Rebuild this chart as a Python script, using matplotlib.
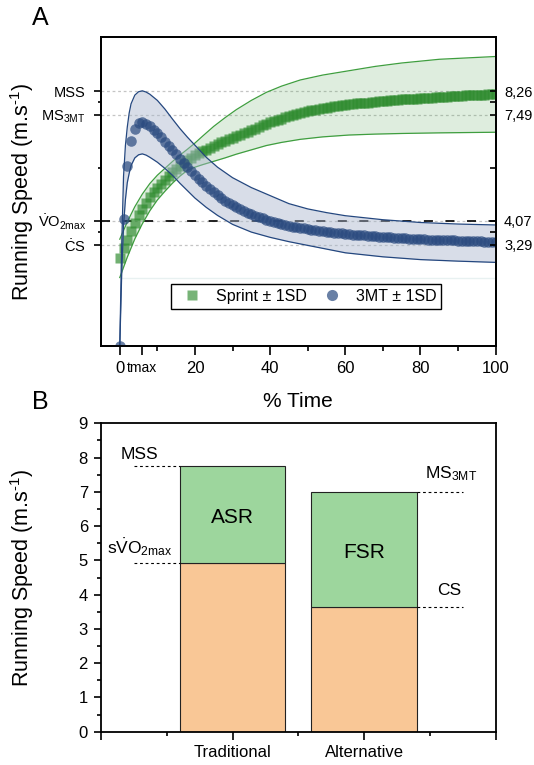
import matplotlib
matplotlib.use('Agg')
import matplotlib.pyplot as plt
from matplotlib.lines import Line2D
import numpy as np

plt.rcParams['font.family'] = ['Liberation Sans', 'DejaVu Sans']
plt.rcParams['mathtext.fontset'] = 'custom'
plt.rcParams['mathtext.rm'] = 'Liberation Sans'
plt.rcParams['mathtext.it'] = 'Liberation Sans:italic'
plt.rcParams['mathtext.bf'] = 'Liberation Sans:bold'
plt.rcParams['lines.scale_dashes'] = False

# ---------------- Panel A data ----------------
time_pct = list(range(101))
sprint_mean = [2.85, 3.17, 3.46, 3.73, 4.00, 4.24, 4.45, 4.65, 4.83, 4.99,
               5.14, 5.27, 5.39, 5.51, 5.63, 5.75, 5.85, 5.95, 6.04, 6.11,
               6.18, 6.25, 6.31, 6.37, 6.43, 6.49, 6.55, 6.60, 6.65, 6.70,
               6.75, 6.80, 6.85, 6.90, 6.95, 7.00, 7.05, 7.10, 7.15, 7.20,
               7.25, 7.29, 7.33, 7.37, 7.41, 7.45, 7.48, 7.52, 7.55, 7.58,
               7.61, 7.64, 7.66, 7.69, 7.71, 7.73, 7.75, 7.77, 7.79, 7.81,
               7.82, 7.84, 7.85, 7.86, 7.87, 7.88, 7.89, 7.91, 7.92, 7.93,
               7.94, 7.95, 7.96, 7.97, 7.98, 7.99, 8.00, 8.01, 8.01, 8.02,
               8.03, 8.04, 8.05, 8.05, 8.06, 8.07, 8.08, 8.08, 8.09, 8.10,
               8.11, 8.11, 8.12, 8.13, 8.13, 8.14, 8.15, 8.15, 8.16, 8.17,
               8.17]
mt3_mean = [0.00, 4.13, 5.85, 6.66, 7.04, 7.22, 7.26, 7.21, 7.12, 7.01,
            6.89, 6.76, 6.63, 6.49, 6.35, 6.21, 6.06, 5.93, 5.80, 5.67,
            5.55, 5.43, 5.31, 5.20, 5.09, 4.99, 4.89, 4.80, 4.72, 4.64,
            4.57, 4.50, 4.44, 4.38, 4.33, 4.28, 4.23, 4.18, 4.14, 4.10,
            4.06, 4.03, 4.00, 3.97, 3.94, 3.91, 3.88, 3.86, 3.84, 3.82,
            3.80, 3.78, 3.76, 3.74, 3.73, 3.71, 3.70, 3.68, 3.67, 3.66,
            3.65, 3.63, 3.62, 3.61, 3.60, 3.59, 3.58, 3.57, 3.56, 3.55,
            3.54, 3.53, 3.53, 3.52, 3.51, 3.50, 3.50, 3.49, 3.48, 3.48,
            3.47, 3.47, 3.46, 3.46, 3.45, 3.45, 3.44, 3.44, 3.43, 3.43,
            3.42, 3.42, 3.41, 3.41, 3.40, 3.40, 3.40, 3.39, 3.39, 3.38,
            3.38]

sprint_band_t = [0, 2, 4, 6, 8, 10, 12, 14, 16, 18, 20, 22, 25, 28, 31, 35,
                 39, 43, 48, 54, 61, 68, 75, 85, 100]
sprint_upper = [3.47, 4.03, 4.52, 4.93, 5.27, 5.54, 5.76, 5.98, 6.19, 6.38,
                6.58, 6.80, 7.12, 7.40, 7.66, 7.96, 8.22, 8.42, 8.62, 8.78,
                8.92, 9.06, 9.17, 9.29, 9.38]
sprint_lower = [2.23, 2.89, 3.48, 3.97, 4.39, 4.74, 5.02, 5.28, 5.51, 5.70,
                5.80, 5.88, 5.99, 6.10, 6.22, 6.36, 6.50, 6.60, 6.70, 6.78,
                6.84, 6.87, 6.89, 6.91, 6.93]

mt3_band_t = [0, 0.5, 1, 1.5, 2, 2.5, 3, 4, 5, 6, 7, 8, 10, 12, 14, 16, 18,
              20, 23, 26, 30, 35, 40, 45, 50, 55, 60, 70, 80, 90, 100]
mt3_upper = [0, 3.2, 5.5, 6.5, 7.1, 7.55, 7.85, 8.13, 8.24, 8.27, 8.23, 8.16,
             7.96, 7.68, 7.36, 7.05, 6.77, 6.51, 6.12, 5.80, 5.46, 5.14, 4.88,
             4.62, 4.45, 4.33, 4.23, 4.10, 4.01, 3.96, 3.93]
mt3_lower = [0, 2.3, 3.9, 4.75, 5.3, 5.6, 5.85, 6.1, 6.2, 6.23, 6.19, 6.12,
             5.96, 5.76, 5.54, 5.28, 5.04, 4.80, 4.50, 4.24, 3.95, 3.70, 3.53,
             3.39, 3.27, 3.15, 3.03, 2.90, 2.81, 2.76, 2.72]

ref_values = [8.26, 7.49, 4.07, 3.29]
ref_left_labels = ['MSS', r'MS$_{\mathrm{3MT}}$',
                   r'$\dot{\mathrm{V}}\mathrm{O}_{\mathrm{2max}}$',
                   r'$\dot{\mathrm{C}}\mathrm{S}$']
ref_right_labels = ['8,26', '7,49', '4,07', '3,29']
ref_minor = [7.9, 5.77, 3.7]
tmax = 6
x_major = [0, tmax, 20, 40, 60, 80, 100]
x_major_labels = ['0', 'tmax', '20', '40', '60', '80', '100']
x_minor = [10, 30, 50, 70, 90]
series_labels = ['Sprint \u00b1 1SD', '3MT \u00b1 1SD']
y_title = r'Running Speed (m.s$^{\text{-1}}$)'

# ---------------- Panel B data ----------------
categories = ['Traditional', 'Alternative']
lower_speed = [4.91, 3.65]
upper_speed = [7.76, 7.00]
zone_labels = ['ASR', 'FSR']
lower_names = [r'$\mathrm{s}\dot{\mathrm{V}}\mathrm{O}_{\mathrm{2max}}$', 'CS']
upper_names = ['MSS', r'MS$_{\mathrm{3MT}}$']

GREEN = '#2e8b2e'
BLUE = '#2a4a7f'

fig = plt.figure(figsize=(5.34, 7.65), dpi=100)
axA = fig.add_axes([0.1891, 0.5471, 0.7391, 0.4041])
axB = fig.add_axes([0.1891, 0.0435, 0.7391, 0.4031])

# ---------- Panel A ----------
axA.set_xlim(-5, 100)
axA.set_ylim(0, 10)
for v in ref_values:
    axA.axhline(v, color='#c4c4c4', lw=0.9, ls=(0, (2, 2)), zorder=1)
axA.axhline(ref_values[2], color='#111111', lw=1.3, ls=(0, (6.5, 9)), zorder=1.5)
axA.hlines(sprint_lower[0], time_pct[0], time_pct[-1], color='#e8f1f1', lw=1, zorder=1)

axA.fill_between(sprint_band_t, sprint_lower, sprint_upper, color='#4aa04a',
                 alpha=0.18, lw=0, zorder=2)
axA.plot(sprint_band_t, sprint_upper, color='#3f9e3f', lw=0.9, zorder=2.1)
axA.plot(sprint_band_t, sprint_lower, color='#3f9e3f', lw=0.9, zorder=2.1)
axA.plot(time_pct, sprint_mean, ls='none', marker='s', ms=6.6, mfc=GREEN,
         mec='none', alpha=0.68, zorder=3)

axA.fill_between(mt3_band_t, mt3_lower, mt3_upper, color='#a9b5cc',
                 alpha=0.45, lw=0, zorder=4)
axA.plot(mt3_band_t, mt3_upper, color='#24477f', lw=0.9, zorder=4.1)
axA.plot(mt3_band_t, mt3_lower, color='#24477f', lw=0.9, zorder=4.1)
axA.plot(time_pct, mt3_mean, ls='none', marker='o', ms=7.6, mfc=BLUE,
         mec='none', alpha=0.7, zorder=5)

axA.set_yticks(ref_values)
axA.set_yticklabels(ref_left_labels, fontsize=10.5)
axA.set_yticks(ref_minor, minor=True)
axA.tick_params(axis='y', which='major', direction='out', length=5, width=1.2, pad=6)
axA.tick_params(axis='y', which='minor', direction='out', length=2.5, width=1.2)

axA.set_xticks(x_major)
axA.set_xticklabels(x_major_labels, fontsize=12)
axA.get_xticklabels()[1].set_fontsize(10)
axA.set_xticks(x_minor, minor=True)
axA.tick_params(axis='x', which='major', direction='out', length=6.5, width=1.2, pad=4)
axA.tick_params(axis='x', which='minor', direction='out', length=3.6, width=1.2)

axR = axA.twinx()
axR.set_ylim(0, 10)
axR.set_yticks(ref_values)
axR.set_yticklabels(ref_right_labels, fontsize=10.5)
axR.set_yticks(ref_minor, minor=True)
axR.tick_params(axis='y', which='major', direction='in', length=4, width=1.2, pad=6)
axR.tick_params(axis='y', which='minor', direction='in', length=4, width=1.2)

for ax in (axA, axR):
    for s in ax.spines.values():
        s.set_linewidth(1.3)

axA.set_xlabel('% Time', fontsize=15)
axA.xaxis.set_label_coords(0.5, -0.1795)
axA.xaxis.label.set_va('center')
axA.set_ylabel(y_title, fontsize=15.5)
axA.yaxis.set_label_coords(-0.201, 0.5)
axA.yaxis.label.set_va('center')

handles = [Line2D([], [], ls='none', marker='s', ms=7, mfc=GREEN, mec='none', alpha=0.65),
           Line2D([], [], ls='none', marker='o', ms=8, mfc=BLUE, mec='none', alpha=0.7)]
leg = axA.legend(handles, series_labels, loc='lower center',
                 bbox_to_anchor=(0.52, 0.096), ncol=2, fontsize=11.5,
                 frameon=True, fancybox=False, edgecolor='black', framealpha=1,
                 borderpad=0.3, handletextpad=0.5, columnspacing=0.6,
                 handlelength=2.0)
leg.get_frame().set_linewidth(1.0)
leg.set_zorder(10)

# ---------- Panel B ----------
pos = np.arange(1, len(categories) + 1)
lower_arr = np.array(lower_speed)
upper_arr = np.array(upper_speed)
bar_w = 0.8
axB.set_xlim(0, 3)
axB.set_ylim(0, 9)
axB.bar(pos, lower_arr, width=bar_w, color='#f9c796', edgecolor='#222222', lw=0.8, zorder=2)
axB.bar(pos, upper_arr - lower_arr, bottom=lower_arr, width=bar_w, color='#9dd69d',
        edgecolor='#222222', lw=0.8, zorder=2)
for p, lo, hi, z in zip(pos, lower_arr, upper_arr, zone_labels):
    axB.text(p, (lo + hi) / 2 - 0.08, z, fontsize=15, ha='center', va='center')

# guide lines + names
guide_side = [-1, 1]
for p, lo, hi, lo_name, hi_name, side in zip(pos, lower_arr, upper_arr,
                                              lower_names, upper_names, guide_side):
    edge = p + side * bar_w / 2
    far = edge + side * 0.35
    axB.hlines([lo, hi], min(edge, far), max(edge, far), color='black', lw=0.8,
               ls=(0, (2, 2)), zorder=3)
    if side < 0:
        axB.text(far + 0.04, hi + 0.34, hi_name, fontsize=12.5, ha='center', va='center')
        axB.text(far + 0.047, lo + 0.47, lo_name, fontsize=12.5, ha='center', va='center')
    else:
        axB.text(far - 0.09, hi + 0.52, hi_name, fontsize=12.5, ha='center', va='center')
        axB.text(far - 0.105, lo + 0.46, lo_name, fontsize=12.5, ha='center', va='center')

axB.set_yticks(np.arange(0, 10))
axB.set_yticklabels([str(i) for i in range(10)], fontsize=12)
axB.set_yticks(np.arange(0.5, 9, 1.0), minor=True)
axB.tick_params(axis='y', which='major', direction='out', length=5.4, width=1.2, pad=4)
axB.tick_params(axis='y', which='minor', direction='out', length=2.8, width=1.2)
axB.set_xticks([0] + list(pos) + [3])
axB.set_xticklabels([''] + categories + [''], fontsize=12)
axB.set_xticks([0.5, 1.5, 2.5], minor=True)
axB.tick_params(axis='x', which='major', direction='out', length=5.8, width=1.2, pad=4)
axB.tick_params(axis='x', which='minor', direction='out', length=3.2, width=1.2)
for s in axB.spines.values():
    s.set_linewidth(1.3)
axB.set_ylabel(y_title, fontsize=15.5)
axB.yaxis.set_label_coords(-0.201, 0.5)
axB.yaxis.label.set_va('center')

fig.text(0.076, 0.976, 'A', fontsize=18, ha='center', va='center')
fig.text(0.075, 0.4749, 'B', fontsize=18, ha='center', va='center')

fig.savefig('out.png', dpi=100)
